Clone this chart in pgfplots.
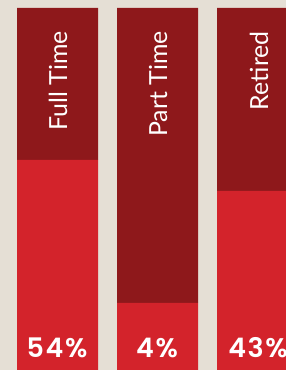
\documentclass[border=0pt]{standalone}
\usepackage{pgfplots}
\pgfplotsset{compat=1.18}
\usepackage{fontspec}
\setmainfont{Lato}
\newfontfamily\pctfont{Poppins SemiBold}[LetterSpace=6]
\definecolor{bg}{RGB}{229,223,213}
\definecolor{darkred}{RGB}{142,24,27}
\definecolor{brightred}{RGB}{211,35,43}
\begin{document}
\begin{tikzpicture}
\begin{axis}[
  scale only axis, width=286bp, height=370bp,
  xmin=0, xmax=286, ymin=0, ymax=370,
  axis lines=none, ticks=none,
  axis background/.style={fill=bg},
  ybar stacked, bar width=81,
  clip=true,
]
\addplot[fill=brightred, draw=none] coordinates {(57.5,210) (157.5,67) (257.5,179)};
\addplot[fill=darkred, draw=none] coordinates {(57.5,152) (157.5,295) (257.5,183)};
\coordinate (ll) at (axis cs:0,0);
\coordinate (ur) at (axis cs:286,370);
\coordinate (l1) at (axis cs:67,339);
\coordinate (l2) at (axis cs:167,339);
\coordinate (l3) at (axis cs:268,339);
\coordinate (p1) at (axis cs:57,13);
\coordinate (p2) at (axis cs:157,13);
\coordinate (p3) at (axis cs:258,13);
\end{axis}
\begin{scope}[every node/.style={text=white, inner sep=0pt}]
\node[rotate=90, anchor=base east, font=\fontsize{25}{29}\selectfont] at (l1) {Full Time};
\node[rotate=90, anchor=base east, font=\fontsize{25}{29}\selectfont] at (l2) {Part Time};
\node[rotate=90, anchor=base east, font=\fontsize{25}{29}\selectfont] at (l3) {Retired};
\node[anchor=base, font=\pctfont\fontsize{27}{32}\selectfont] at (p1) {54\%};
\node[anchor=base, font=\pctfont\fontsize{27}{32}\selectfont] at (p2) {4\%};
\node[anchor=base, font=\pctfont\fontsize{27}{32}\selectfont] at (p3) {43\%};
\end{scope}
\pgfresetboundingbox
\useasboundingbox (ll) rectangle (ur);
\end{tikzpicture}
\end{document}
